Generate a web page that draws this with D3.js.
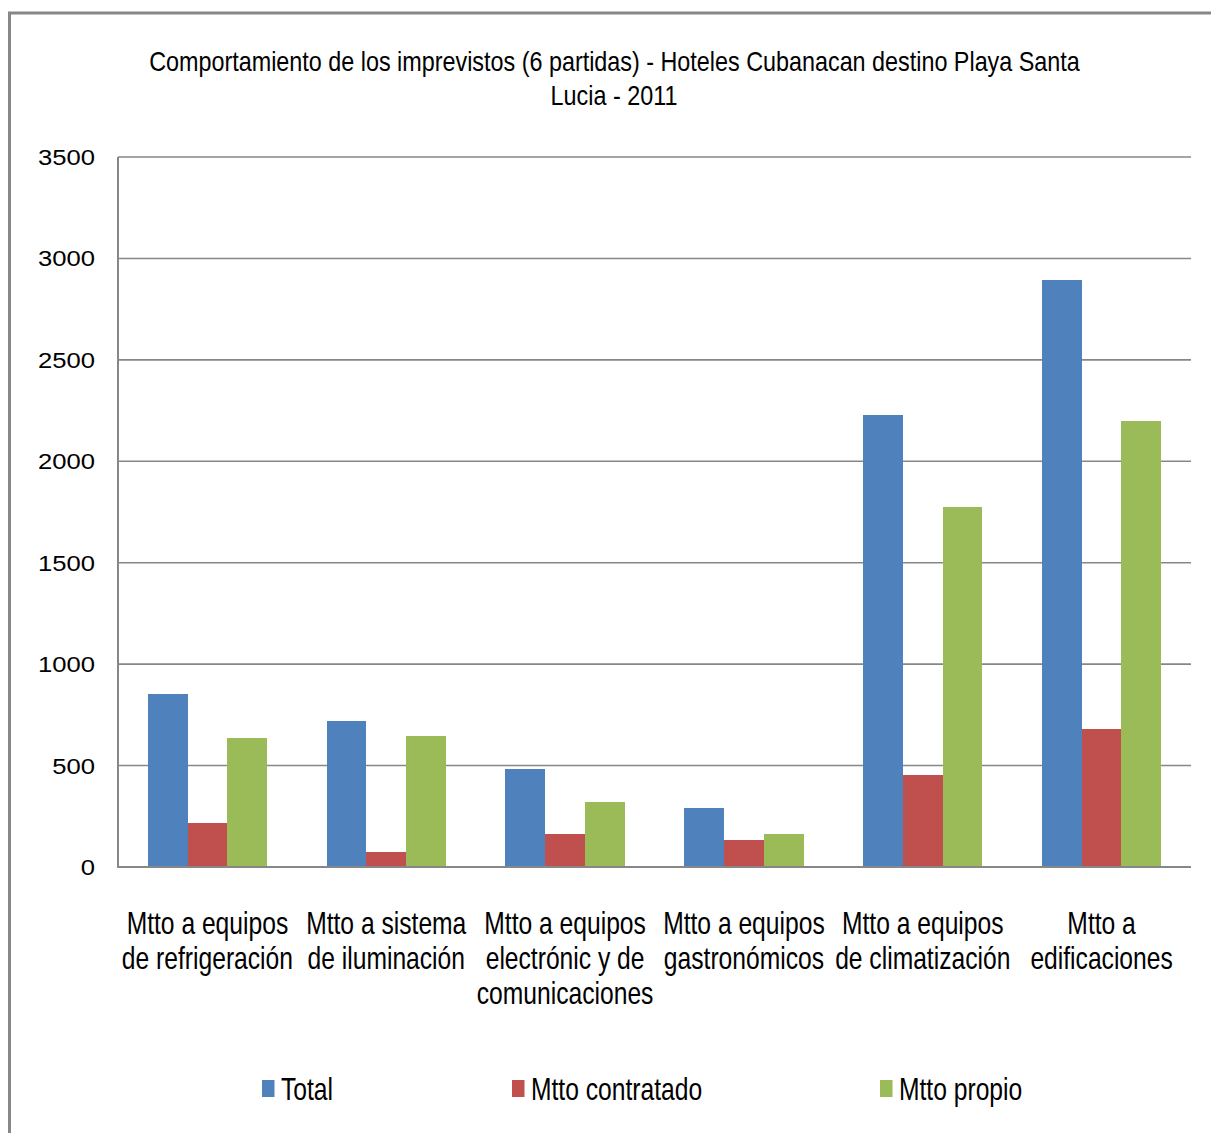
<!DOCTYPE html>
<html>
<head>
<meta charset="utf-8">
<script src="https://cdn.jsdelivr.net/npm/d3@7"></script>
<style>
  html, body { margin: 0; padding: 0; background: #ffffff; }
  svg { display: block; }
  text { font-family: "Liberation Sans", Arial, sans-serif; fill: #000; }
</style>
</head>
<body>
<svg id="chart" width="1211" height="1133"></svg>
<script>
// Chart data
const categories = [
  ["Mtto a equipos", "de refrigeración"],
  ["Mtto a sistema", "de iluminación"],
  ["Mtto a equipos", "electrónic y de", "comunicaciones"],
  ["Mtto a equipos", "gastronómicos"],
  ["Mtto a equipos", "de climatización"],
  ["Mtto a", "edificaciones"]
];
const seriesNames = ["Total", "Mtto contratado", "Mtto propio"];
const seriesColors = ["#4F81BD", "#C0504D", "#9BBB59"];
const totalValues = [855, 722, 485, 290, 2226, 2894];
const contratadoValues = [219, 75, 164, 132, 455, 681];
const propioValues = [638, 648, 322, 161, 1773, 2197];
const yTicks = [0, 500, 1000, 1500, 2000, 2500, 3000, 3500];
const titleLines = [
  "Comportamiento de los imprevistos (6 partidas) - Hoteles Cubanacan  destino Playa Santa",
  "Lucia - 2011"
];

const seriesValues = [totalValues, contratadoValues, propioValues];

const svg = d3.select("#chart");
const W = 1211, H = 1133;
const plot = { left: 118, right: 1191, top: 157, bottom: 867 };
const grey = "#878787";

// Outer frame (top and left edges)
svg.append("line").attr("x1", 8).attr("x2", W).attr("y1", 13).attr("y2", 13)
  .attr("stroke", grey).attr("stroke-width", 3);
svg.append("line").attr("x1", 9.5).attr("x2", 9.5).attr("y1", 12).attr("y2", H)
  .attr("stroke", grey).attr("stroke-width", 3);

// Scales
const y = d3.scaleLinear().domain([0, 3500]).range([plot.bottom, plot.top]);
const x0 = d3.scaleBand().domain(d3.range(categories.length))
  .range([plot.left, plot.right]).paddingInner(0).paddingOuter(0);
const step = x0.bandwidth();
const x1 = d3.scaleBand().domain(d3.range(seriesNames.length))
  .range([step / 6, step * 5 / 6]).padding(0);

// Gridlines
const grid = svg.append("g");
grid.selectAll("line").data(yTicks.filter(t => t > 0)).join("line")
  .attr("x1", plot.left).attr("x2", plot.right)
  .attr("y1", d => y(d)).attr("y2", d => y(d))
  .attr("stroke", grey).attr("stroke-width", 1.6);

// Y tick labels (slightly widened glyphs)
const tickG = svg.append("g");
yTicks.forEach(t => {
  tickG.append("text")
    .attr("transform", `translate(95,${y(t) + 8}) scale(1.14,1)`)
    .attr("text-anchor", "end")
    .attr("font-size", 22.5)
    .text(t);
});

// Bars
const groups = svg.append("g").selectAll("g").data(categories.map((c, i) => i)).join("g")
  .attr("transform", i => `translate(${x0(i)},0)`);
groups.selectAll("rect")
  .data(i => seriesValues.map((vals, s) => ({ s, v: vals[i] })))
  .join("rect")
  .attr("x", d => x1(d.s))
  .attr("width", x1.bandwidth())
  .attr("y", d => y(d.v))
  .attr("height", d => y(0) - y(d.v))
  .attr("fill", d => seriesColors[d.s])
  .attr("shape-rendering", "crispEdges");

// Axis lines
svg.append("line").attr("x1", plot.left).attr("x2", plot.left)
  .attr("y1", plot.top).attr("y2", plot.bottom + 1)
  .attr("stroke", grey).attr("stroke-width", 2);
svg.append("line").attr("x1", plot.left - 1).attr("x2", plot.right)
  .attr("y1", y(0)).attr("y2", y(0))
  .attr("stroke", grey).attr("stroke-width", 2.2);

// Category labels (condensed)
const catSize = 32, catScale = 0.77;
const catG = svg.append("g");
categories.forEach((lines, i) => {
  const cx = x0(i) + step / 2;
  lines.forEach((ln, k) => {
    catG.append("text")
      .attr("transform", `translate(${cx},${934 + k * 35}) scale(${catScale},1)`)
      .attr("text-anchor", "middle")
      .attr("font-size", catSize)
      .text(ln);
  });
});

// Title (condensed to fit its line width)
const titleG = svg.append("g");
const t1 = titleG.append("text").attr("font-size", 27).text(titleLines[0]);
const natural = t1.node().getComputedTextLength();
const tScale = 931 / natural;
t1.attr("text-anchor", "middle")
  .attr("transform", `translate(614.5,71) scale(${tScale},1)`);
titleG.append("text").attr("font-size", 27).attr("text-anchor", "middle")
  .attr("transform", `translate(614,105) scale(${tScale},1)`)
  .text(titleLines[1]);

// Legend
const legendX = [262, 512, 880];
const legend = svg.append("g");
seriesNames.forEach((name, s) => {
  legend.append("rect")
    .attr("x", legendX[s]).attr("y", 1080)
    .attr("width", 12.5).attr("height", 17)
    .attr("fill", seriesColors[s]);
  legend.append("text")
    .attr("transform", `translate(${legendX[s] + 19},1100) scale(${catScale},1)`)
    .attr("font-size", catSize)
    .text(name);
});
</script>
</body>
</html>
